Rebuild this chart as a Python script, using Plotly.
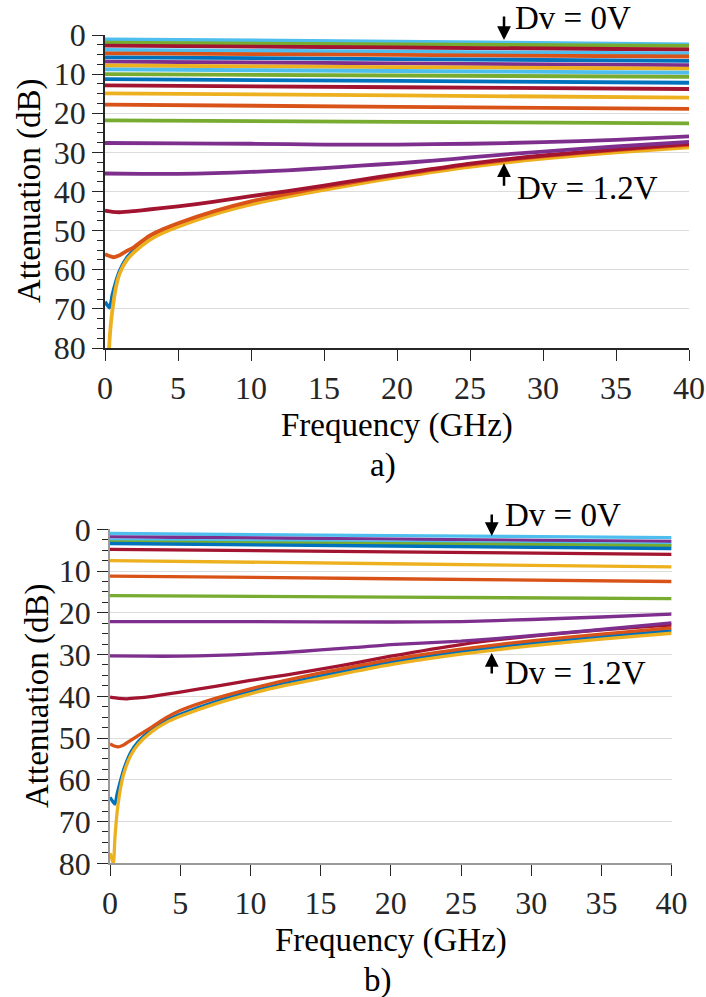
import plotly.graph_objects as go

# ---- colours (MATLAB default order) ----
BLUE = "#0072BD"
ORANGE = "#D95319"
YELLOW = "#EDB120"
PURPLE = "#7E2F8E"
GREEN = "#77AC30"
LIGHTBLUE = "#4DBEEE"
DARKRED = "#A2142F"

# ================= panel a) =================
# nearly flat curves (low bias): attenuation at 0, 20 and 40 GHz
A_FLAT_FREQ = [0, 20, 40]
A_FLAT_COLORS = [LIGHTBLUE, GREEN, DARKRED, LIGHTBLUE, ORANGE, BLUE, PURPLE,
                 YELLOW, LIGHTBLUE, GREEN, BLUE, DARKRED, YELLOW, ORANGE, GREEN]
A_FLAT_START = [1.1, 1.95, 2.7, 3.8, 4.7, 5.7, 6.8, 7.8, 8.8, 10.0, 11.3, 12.9, 14.9, 17.8, 21.8]
A_FLAT_MID = [1.7, 2.4, 3.2, 4.25, 5.1, 6.15, 7.25, 8.2, 9.2, 10.35, 11.75, 13.35, 15.45, 18.35, 22.2]
A_FLAT_END = [2.4, 2.8, 3.7, 4.7, 5.5, 6.6, 7.7, 8.6, 9.6, 10.7, 12.2, 13.8, 16.0, 18.9, 22.6]

A_P1_F = [0, 5, 10, 15, 20, 25, 30, 35, 40]
A_P1_V = [27.6, 27.7, 27.8, 28.0, 28.0, 27.8, 27.4, 26.8, 25.9]

A_P2_F = [0, 2.5, 5, 7.5, 10, 12.5, 15, 17.5, 20, 22.5, 25, 27.5, 30, 35, 40]
A_P2_V = [35.4, 35.5, 35.5, 35.3, 35.0, 34.6, 34.0, 33.4, 32.8, 32.1, 31.3, 30.5, 29.8, 28.5, 27.3]

A_DR_F = [0, 0.5, 1, 2, 3, 5, 7.5, 10, 12.5, 15, 17.5, 20, 25, 30, 35, 40]
A_DR_V = [44.9, 45.2, 45.3, 45.0, 44.6, 43.8, 42.6, 41.2, 39.9, 38.5, 37.0, 35.6, 32.9, 30.8, 29.2, 27.8]

A_OR_F = [0, 0.3, 0.6, 1, 1.5, 2, 3, 4, 5, 7.5, 10, 12.5, 15, 17.5, 20, 25, 30, 35, 40]
A_OR_V = [56.0, 56.5, 56.8, 56.3, 55.2, 54.2, 51.4, 49.6, 48.1, 45.0, 42.5, 40.6, 38.9, 37.3, 35.8,
          33.1, 31.0, 29.4, 28.1]

A_BL_F = [0, 0.15, 0.3, 0.4, 0.5, 0.75, 1, 1.5, 2, 3, 4, 5, 7.5, 10, 12.5, 15, 17.5, 20, 25, 30, 35, 40]
A_BL_V = [68.2, 69.0, 69.7, 68.6, 66.5, 63.0, 60.3, 56.9, 54.9, 52.0, 50.0, 48.5, 45.4, 42.9, 40.9,
          39.2, 37.6, 36.1, 33.4, 31.3, 29.7, 28.4]

A_YE_F = [0.25, 0.35, 0.5, 0.75, 1, 1.5, 2, 3, 4, 5, 7.5, 10, 12.5, 15, 17.5, 20, 25, 30, 35, 40]
A_YE_V = [82.0, 76.0, 70.5, 64.5, 61.0, 57.5, 55.5, 52.5, 50.5, 49.0, 45.8, 43.3, 41.3, 39.6, 37.9,
          36.4, 33.7, 31.6, 30.0, 28.7]

# ================= panel b) =================
B_FLAT_FREQ = [0, 20, 40]
B_FLAT_COLORS = [LIGHTBLUE, PURPLE, LIGHTBLUE, GREEN, BLUE, DARKRED, YELLOW, ORANGE, GREEN]
B_FLAT_START = [1.0, 1.8, 2.6, 3.0, 3.4, 4.8, 7.5, 11.2, 15.9]
B_FLAT_MID = [1.5, 2.35, 3.1, 3.45, 4.0, 5.4, 8.25, 11.85, 16.25]
B_FLAT_END = [2.0, 2.9, 3.6, 3.9, 4.6, 6.0, 9.0, 12.5, 16.6]

B_P1_F = [0, 10, 20, 25, 30, 35, 40]
B_P1_V = [22.1, 22.1, 22.2, 22.1, 21.6, 21.0, 20.3]

B_P2_F = [0, 2.5, 5, 7.5, 10, 12.5, 15, 17.5, 20, 25, 30, 35, 40]
B_P2_V = [30.3, 30.4, 30.4, 30.2, 29.9, 29.5, 28.9, 28.3, 27.6, 26.8, 25.5, 24.0, 22.4]

B_DR_F = [0, 0.6, 1.2, 2, 3, 5, 7.5, 10, 12.5, 15, 17.5, 20, 25, 30, 35, 40]
B_DR_V = [40.2, 40.5, 40.6, 40.4, 40.0, 39.0, 37.6, 36.2, 34.9, 33.5, 32.0, 30.4, 27.6, 25.6, 24.1, 22.9]

B_OR_F = [0, 0.3, 0.6, 1, 1.5, 2, 3, 4, 5, 7.5, 10, 12.5, 15, 17.5, 20, 25, 30, 35, 40]
B_OR_V = [51.4, 51.9, 52.1, 51.6, 50.5, 49.4, 47.3, 45.1, 43.4, 40.5, 38.2, 36.2, 34.4, 32.8, 31.2,
          28.7, 26.7, 25.1, 23.6]

B_BL_F = [0, 0.2, 0.36, 0.5, 0.75, 1, 1.5, 2, 3, 4, 5, 7.5, 10, 12.5, 15, 17.5, 20, 25, 30, 35, 40]
B_BL_V = [64.2, 65.2, 65.8, 63.5, 60.2, 57.3, 53.3, 50.9, 47.9, 45.8, 44.3, 41.3, 38.9, 36.9, 35.1,
          33.4, 31.8, 29.3, 27.3, 25.7, 24.3]

B_YE_F = [0, 0.12, 0.24, 0.35, 0.5, 0.75, 1, 1.5, 2, 3, 4, 5, 7.5, 10, 12.5, 15, 17.5, 20, 25, 30, 35, 40]
B_YE_V = [77.6, 78.8, 80.0, 74.0, 68.0, 62.0, 58.3, 54.0, 51.5, 48.4, 46.3, 44.8, 41.8, 39.4, 37.4,
          35.7, 34.0, 32.4, 29.9, 27.9, 26.3, 24.9]

X_TICKS = [0, 5, 10, 15, 20, 25, 30, 35, 40]
Y_TICKS = [0, 10, 20, 30, 40, 50, 60, 70, 80]

FONT = "Liberation Serif"
INK = "#262626"

fig = go.Figure()


def add_line(x, y, color, width, xa, ya):
    fig.add_trace(go.Scatter(x=x, y=y, mode="lines", xaxis=xa, yaxis=ya,
                             line=dict(color=color, width=width, shape="spline", smoothing=0.6),
                             showlegend=False, hoverinfo="skip"))


# panel a)
for c, s, m, e in zip(A_FLAT_COLORS, A_FLAT_START, A_FLAT_MID, A_FLAT_END):
    add_line(A_FLAT_FREQ, [s, m, e], c, 3.8, "x", "y")
add_line(A_BL_F, A_BL_V, BLUE, 3.6, "x", "y")
add_line(A_YE_F, A_YE_V, YELLOW, 3.8, "x", "y")
add_line(A_OR_F, A_OR_V, ORANGE, 3.8, "x", "y")
add_line(A_DR_F, A_DR_V, DARKRED, 3.8, "x", "y")
add_line(A_P2_F, A_P2_V, PURPLE, 3.8, "x", "y")
add_line(A_P1_F, A_P1_V, PURPLE, 3.8, "x", "y")

# panel b)
for c, s, m, e in zip(B_FLAT_COLORS, B_FLAT_START, B_FLAT_MID, B_FLAT_END):
    add_line(B_FLAT_FREQ, [s, m, e], c, 3.3, "x2", "y2")
add_line(B_BL_F, B_BL_V, BLUE, 3.3, "x2", "y2")
add_line(B_YE_F, B_YE_V, YELLOW, 3.3, "x2", "y2")
add_line(B_OR_F, B_OR_V, ORANGE, 3.3, "x2", "y2")
add_line(B_DR_F, B_DR_V, DARKRED, 3.3, "x2", "y2")
add_line(B_P2_F, B_P2_V, PURPLE, 3.3, "x2", "y2")
add_line(B_P1_F, B_P1_V, PURPLE, 3.3, "x2", "y2")

W, H = 706, 997


def xdom(a, b):
    return [a / W, b / W]


def ydom(top, bottom):
    return [1 - bottom / H, 1 - top / H]


def xaxis_style(dom, anchor, linecolor):
    return dict(domain=dom, anchor=anchor, range=[0, 40], tickvals=X_TICKS, automargin=False,
                showgrid=False, zeroline=False, showline=True, linecolor=linecolor,
                linewidth=1.5, ticks="outside", ticklen=11, tickwidth=1.3, tickcolor=INK,
                tickfont=dict(family=FONT, size=32, color=INK))


def yaxis_style(dom, anchor, linecolor):
    return dict(domain=dom, anchor=anchor, range=[80, 0], tickvals=Y_TICKS, automargin=False,
                showgrid=True, gridcolor="#dcdcdc", gridwidth=1, zeroline=False,
                showline=True, linecolor=linecolor, linewidth=1.5, ticks="outside",
                ticklen=11, tickwidth=1.3, tickcolor=INK,
                minor=dict(dtick=2.5, ticks="outside", ticklen=6, tickwidth=1.2,
                           tickcolor=INK, showgrid=False),
                tickfont=dict(family=FONT, size=32, color=INK))


fig.update_layout(
    template="none",
    font=dict(family=FONT, color=INK),
    width=W, height=H, margin=dict(l=0, r=0, t=0, b=0, autoexpand=False),
    paper_bgcolor="white", plot_bgcolor="white",
    xaxis=xaxis_style(xdom(105, 689), "y", INK),
    yaxis=yaxis_style(ydom(35, 348), "x", INK),
    xaxis2=xaxis_style(xdom(110, 671.6), "y2", "#9a9a9a"),
    yaxis2=yaxis_style(ydom(529.3, 863.3), "x2", "#9a9a9a"),
)

ann = []


def text(x, y, s, size=33, angle=0, xanchor="center"):
    ann.append(dict(x=x / W, y=1 - y / H, xref="paper", yref="paper", text=s, showarrow=False,
                    textangle=angle, xanchor=xanchor, yanchor="middle",
                    font=dict(family=FONT, size=size, color="black")))


def arrow(x, y, ay, xref, yref):
    ann.append(dict(x=x, y=y, xref=xref, yref=yref, text="", showarrow=True,
                    arrowhead=2, arrowsize=1.1, arrowwidth=2.5, arrowcolor="black",
                    ax=0, ay=ay))


# axis titles and panel captions (pixel positions)
text(30, 191, "Attenuation (dB)", angle=-90)
text(397, 425, "Frequency (GHz)")
text(383, 466, "a)")
text(37, 696, "Attenuation (dB)", angle=-90)
text(391, 940, "Frequency (GHz)")
text(378, 980, "b)")

# bias labels, panel a)
arrow(27.33, 1.3, -25, "x", "y")
text(513, 18, "Dv = 0V", xanchor="left")
arrow(27.33, 32.8, 24, "x", "y")
text(515, 188, "Dv = 1.2V", xanchor="left")

# bias labels, panel b)
arrow(27.19, 1.6, -23, "x2", "y2")
text(503, 515, "Dv = 0V", xanchor="left")
arrow(27.19, 29.6, 22, "x2", "y2")
text(503, 673, "Dv = 1.2V", xanchor="left")

fig.update_layout(annotations=ann)

fig.write_html("out.html")
